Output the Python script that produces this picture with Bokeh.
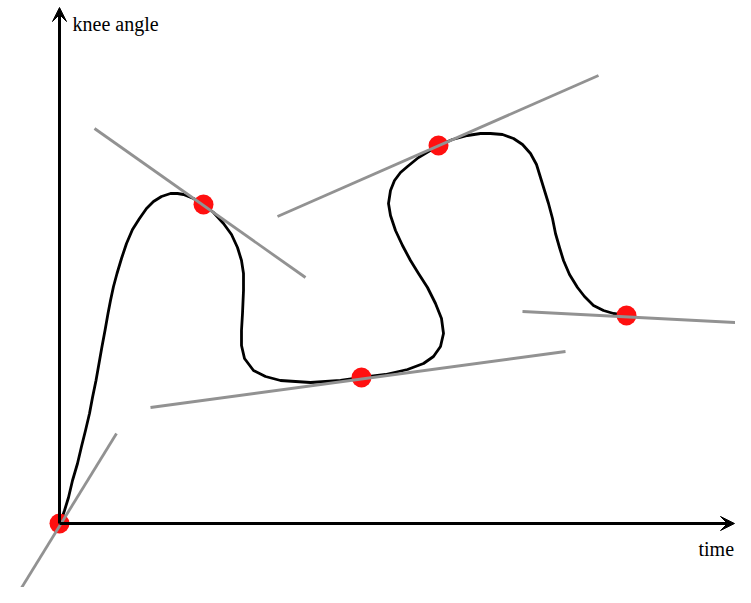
from bokeh.plotting import figure
from bokeh.models import Range1d, Arrow, VeeHead, Label
from bokeh.embed import file_html
from bokeh.resources import INLINE

# Curve: time vs knee angle (schematic units, origin at axes corner)
curve_time = [0, 2, 5, 9, 13, 18, 22, 26, 30, 33, 36.5, 39.5, 42.5, 45.5, 48.5, 51, 54,
              57.5, 62, 67, 73, 80, 87, 94, 102, 111, 118, 124, 134, 144, 154, 164, 172,
              178, 182, 184, 184, 183, 182, 182, 185, 194, 206, 221, 236, 251, 266, 281,
              302, 326, 348, 364, 374, 381, 384, 382, 376, 368, 359, 351, 343, 336, 331,
              329, 331, 335, 341, 348, 359, 369, 379, 393, 408, 421, 431, 443, 454, 463,
              471, 477, 481, 485, 489, 493, 496, 500, 504, 510, 518, 525, 534, 544, 554, 567]
curve_angle = [0, 4, 13, 26, 43, 60, 77, 93, 110, 126, 143, 160, 177, 193, 210, 223, 237,
               250, 265, 280, 294, 305, 315, 322, 327, 330, 330, 329, 325, 319, 311, 300,
               289, 276, 263, 250, 233, 210, 193, 178, 165, 153, 147, 143, 142, 141, 142,
               143, 146, 149, 154, 160, 167, 177, 190, 205, 220, 236, 250, 263, 278, 293,
               308, 320, 333, 343, 351, 357, 366, 372, 378, 384, 388, 390, 390, 389, 385,
               379, 370, 359, 346, 333, 320, 305, 290, 276, 263, 249, 236, 227, 218, 213,
               210, 208]

# Marked points
point_time = [0, 144, 302, 379, 567]
point_angle = [0, 319, 146, 378, 208]

# Tangent segments at the marked points
tan_t0 = [-47, 35, 91, 218, 463]
tan_a0 = [-79, 395, 116, 307, 212]
tan_t1 = [57, 246, 506, 539, 676]
tan_a1 = [90, 246, 172, 448, 201]

# Axis extents
x_axis_end = 675
y_axis_end = 516

p = figure(width=735, height=587, output_backend="svg", toolbar_location=None,
           x_range=Range1d(-59, 676), y_range=Range1d(-64, 523),
           min_border=0, min_border_left=0, min_border_right=0,
           min_border_top=0, min_border_bottom=0)
p.xaxis.visible = False
p.yaxis.visible = False
p.xgrid.visible = False
p.ygrid.visible = False
p.outline_line_color = None
p.background_fill_color = "white"
p.border_fill_color = "white"

p.line(curve_time, curve_angle, line_color="black", line_width=2.8, line_join="round")
p.scatter(point_time, point_angle, size=20, fill_color="#ff1010", line_color=None)
p.segment(tan_t0, tan_a0, tan_t1, tan_a1, line_color="#929292", line_width=2.8)

p.add_layout(Arrow(end=VeeHead(size=14, fill_color="black", line_color="black"),
                   x_start=0, y_start=0, x_end=0, y_end=y_axis_end,
                   line_color="black", line_width=3))
p.add_layout(Arrow(end=VeeHead(size=14, fill_color="black", line_color="black"),
                   x_start=0, y_start=0, x_end=x_axis_end, y_end=0,
                   line_color="black", line_width=3))

p.add_layout(Label(x=13, y=500, text="knee angle", text_font="Liberation Serif",
                   text_font_size="20px", text_color="black", text_baseline="alphabetic"))
p.add_layout(Label(x=639, y=-25, text="time", text_font="Liberation Serif",
                   text_font_size="20px", text_color="black", text_baseline="alphabetic"))

open("out.html", "w").write(file_html(p, INLINE))
